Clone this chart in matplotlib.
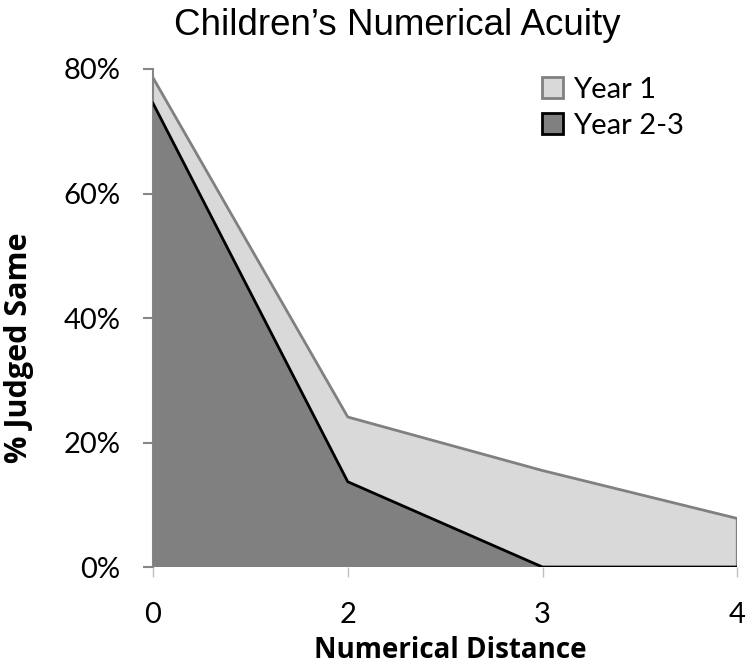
import matplotlib
matplotlib.use("Agg")
import matplotlib.pyplot as plt
from matplotlib.patches import Patch
import numpy as np

categories = ["0", "2", "3", "4"]
year1 = [78.6, 24.1, 15.5, 7.8]
year23 = [74.5, 13.7, 0.0, 0.0]
yticks = [0, 20, 40, 60, 80]
ytick_labels = ["0%", "20%", "40%", "60%", "80%"]

fig = plt.figure(figsize=(7.5, 6.66), dpi=100)
ax = fig.add_axes([0.204, 0.1486, 0.779, 0.7478])

x = np.arange(len(categories))
ax.fill_between(x, year1, 0, facecolor="#d9d9d9", edgecolor="none", zorder=1)
ax.plot(np.r_[x, x[-1]], np.r_[year1, 0], color="#808080", lw=2, zorder=2)
ax.fill_between(x, year23, 0, facecolor="#808080", edgecolor="none", zorder=3)
ax.plot(x, year23, color="black", lw=2, zorder=4)

ax.set_xlim(0, len(categories) - 1)
ax.set_ylim(0, 80)
ax.set_xticks(x)
ax.set_xticklabels(categories, fontfamily="Lato", fontsize=21)
ax.set_yticks(yticks)
ax.set_yticklabels(ytick_labels, fontfamily="Lato", fontsize=21)

for s in ["top", "right", "bottom"]:
    ax.spines[s].set_visible(False)
ax.spines["left"].set_color("#868686")
ax.spines["left"].set_linewidth(1.5)
ax.tick_params(axis="y", direction="out", length=7.5, width=1.5, color="#868686", pad=16)
ax.tick_params(axis="x", direction="out", length=7.5, width=1, color="#bfbfbf", pad=18)

ax.set_xlabel("Numerical Distance", fontfamily="Open Sans", fontweight="bold", fontsize=20,
              va="baseline")
ax.xaxis.set_label_coords(0.5086, -0.1827)
ax.set_ylabel("% Judged Same", fontfamily="Open Sans", fontweight="bold", fontsize=22,
              va="center")
ax.yaxis.set_label_coords(-0.2295, 0.44)

fig.text(0.529, 0.9474, "Children\u2019s Numerical Acuity", fontfamily="Liberation Sans",
         fontsize=26.5, ha="center", va="baseline")

handles = [Patch(facecolor="#d9d9d9", edgecolor="#808080", lw=2, label="Year 1"),
           Patch(facecolor="#808080", edgecolor="black", lw=2, label="Year 2-3")]
leg = fig.legend(handles=handles, loc="upper left", bbox_to_anchor=(0.722, 0.885), frameon=False,
                 prop={"family": "Lato", "size": 21}, handlelength=0.72, handleheight=0.72,
                 handletextpad=0.35, labelspacing=0.36, borderpad=0, borderaxespad=0)

fig.savefig("out.png", dpi=100)
